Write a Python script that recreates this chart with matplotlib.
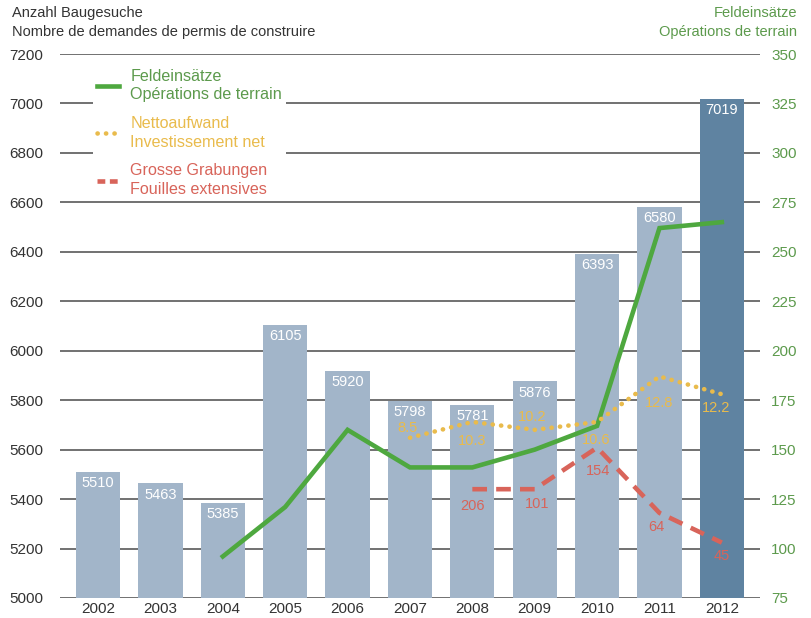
import matplotlib.pyplot as plt
import numpy as np

# data
years = ['2002', '2003', '2004', '2005', '2006', '2007', '2008', '2009', '2010', '2011', '2012']
baugesuche = [5510, 5463, 5385, 6105, 5920, 5798, 5781, 5876, 6393, 6580, 7019]

feld_years = ['2004', '2005', '2006', '2007', '2008', '2009', '2010', '2011', '2012']
feldeinsaetze = [96, 121, 160, 141, 141, 150, 162, 262, 265]

netto_years = ['2007', '2008', '2009', '2010', '2011', '2012']
netto_level = [156, 164, 160, 164, 187, 178]      # drawn height on right scale
netto_labels = ['8.5', '10.3', '10.2', '10.6', '12.8', '12.2']

grab_years = ['2008', '2009', '2010', '2011', '2012']
grab_level = [130, 130, 151, 118, 103]            # drawn height on right scale
grab_labels = ['206', '101', '154', '64', '45']

plt.rcParams['font.family'] = ['Liberation Sans', 'DejaVu Sans']

c_bar = '#a2b5c9'
c_bar_last = '#5f83a1'
c_green = '#4ea83f'
c_green_txt = '#5c9a4c'
c_yellow = '#e9bb4c'
c_red = '#d8645a'
c_text = '#333333'
c_grid = '#4a4a4a'

fig = plt.figure(figsize=(8.11, 6.18), dpi=100)
ax = fig.add_axes([0.074, 0.0324, 0.863, 0.8802])
ax2 = ax.twinx()

x = np.arange(len(years))
pos = {y: i for i, y in enumerate(years)}

colors = [c_bar] * (len(years) - 1) + [c_bar_last]
bars = ax.bar(x, baugesuche, width=0.71, color=colors, zorder=2)
for b, v in zip(bars, baugesuche):
    ax.annotate(str(v), (b.get_x() + b.get_width() / 2, v), xytext=(0, -3),
                textcoords='offset points', ha='center', va='top',
                color='white', fontsize=10.5, zorder=3)

ax.set_xlim(-0.61, len(years) - 1 + 0.61)
ax.set_ylim(5000, 7200)
ax.set_yticks(np.arange(5000, 7201, 200))
ax.set_xticks(x)
ax.set_xticklabels(years)
ax.set_axisbelow(True)
ax.grid(axis='y', color=c_grid, lw=1.1)
ax.tick_params(axis='y', length=0, pad=12, labelsize=11, labelcolor=c_text)
ax.tick_params(axis='x', length=0, pad=3, labelsize=11, labelcolor=c_text)
for s in ax.spines.values():
    s.set_visible(False)

ax2.set_ylim(75, 350)
ax2.set_yticks(np.arange(75, 351, 25))
ax2.tick_params(axis='y', length=0, pad=8, labelsize=11, labelcolor=c_green_txt)
for s in ax2.spines.values():
    s.set_visible(False)

# lines on right scale
ax2.plot([pos[y] for y in feld_years], feldeinsaetze, color=c_green, lw=3.3,
         solid_joinstyle='miter', label='Feldeinsätze\nOpérations de terrain', zorder=4)
ax2.plot([pos[y] for y in netto_years], netto_level, color=c_yellow, lw=3.3,
         linestyle=(0, (0.05, 1.8)), dash_capstyle='round',
         label='Nettoaufwand\nInvestissement net', zorder=4)
ax2.plot([pos[y] for y in grab_years], grab_level, color=c_red, lw=3.3,
         linestyle=(0, (3.2, 2.0)), label='Grosse Grabungen\nFouilles extensives', zorder=4)

# value labels (offsets in points)
netto_off = [(-2, 7), (0, -14), (-2, 9), (-1, -13), (0, -19), (-4, -10)]
for y, lv, t, off in zip(netto_years, netto_level, netto_labels, netto_off):
    ax2.annotate(t, (pos[y], lv), xytext=off, textcoords='offset points',
                 ha='center', va='center', color=c_yellow, fontsize=10.5, zorder=5)
grab_off = [(0, -12), (2, -11), (1, -17), (-2, -10), (0, -10)]
for y, lv, t, off in zip(grab_years, grab_level, grab_labels, grab_off):
    ax2.annotate(t, (pos[y], lv), xytext=off, textcoords='offset points',
                 ha='center', va='center', color=c_red, fontsize=10.5, zorder=5)

leg = ax2.legend(loc='upper left', bbox_to_anchor=(0.035, 0.995), frameon=True,
                 facecolor='white', edgecolor='none', framealpha=1, fancybox=False,
                 fontsize=11.6, handlelength=1.4, handletextpad=0.7, labelspacing=0.85,
                 borderpad=0.25)
for txt, c in zip(leg.get_texts(), [c_green_txt, c_yellow, c_red]):
    txt.set_color(c)
    txt.set_linespacing(1.3)
# shorter dashes so the legend key shows two of them
leg.legend_handles[2].set_linestyle((0, (1.7, 1.0)))
leg.legend_handles[2].set_dash_capstyle('butt')
leg.set_zorder(10)

fig.text(0.015, 0.99, 'Anzahl Baugesuche\nNombre de demandes de permis de construire',
         ha='left', va='top', fontsize=10.5, color=c_text, linespacing=1.45)
fig.text(0.983, 0.99, 'Feldeinsätze\nOpérations de terrain',
         ha='right', va='top', fontsize=10.5, color=c_green_txt, linespacing=1.45)

fig.savefig('out.png', dpi=100)
